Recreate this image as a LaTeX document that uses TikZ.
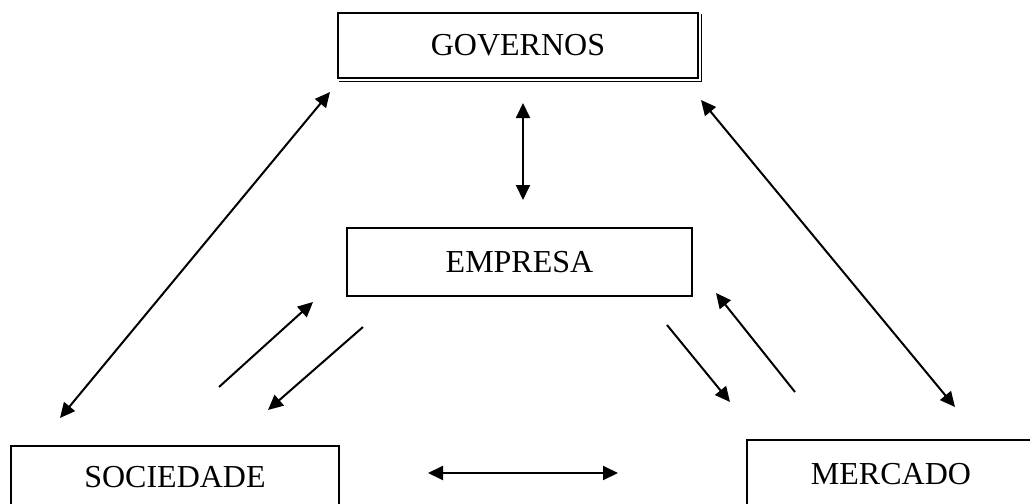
\documentclass[tikz,border=0pt]{standalone}
\usepackage{fontspec}
\setmainfont{Liberation Serif}
\usetikzlibrary{arrows.meta}
\begin{document}
\begin{tikzpicture}[x=0.5pt,y=-0.5pt,
  box/.style={draw, line width=1pt, rectangle, inner sep=0pt, font=\fontsize{16}{19}\selectfont},
  link/.style={line width=1pt, -{Triangle[length=7.5pt,width=7pt]}},
  dlink/.style={line width=1pt, {Triangle[length=7.5pt,width=7pt]}-{Triangle[length=7.5pt,width=7pt]}}]
\path[use as bounding box, clip] (0,0) rectangle (1030,504);
\fill[white] (0,0) rectangle (1030,504);
% boxes
\node[box, minimum width=180pt, minimum height=32.5pt] (gov) at (518,45.5) {GOVERNOS};
\draw[line width=0.7pt] ([shift={(1pt,-1.3pt)}]gov.south west) -| ([shift={(1.3pt,-1pt)}]gov.north east);
\node[box, minimum width=172.5pt, minimum height=34pt] (emp) at (519.5,262) {EMPRESA};
\node[box, minimum width=164pt, minimum height=31pt] (soc) at (175,477) {SOCIEDADE};
\node[box, minimum width=144pt, minimum height=34pt] (mer) at (891,474) {MERCADO};
% arrow end points
\coordinate (a1) at (330,92);   \coordinate (a2) at (60,418);
\coordinate (b1) at (523,103);  \coordinate (b2) at (523,200);
\coordinate (c1) at (219,387);  \coordinate (c2) at (313,302);
\coordinate (d1) at (363,327);  \coordinate (d2) at (268,410);
\coordinate (e1) at (701,100);  \coordinate (e2) at (955,407);
\coordinate (f1) at (667,325);  \coordinate (f2) at (730,402);
\coordinate (g1) at (795,392);  \coordinate (g2) at (716,293);
\coordinate (h1) at (428,473);  \coordinate (h2) at (618,473);
% arrows
\draw[dlink] (a1) -- (a2);
\draw[dlink] (b1) -- (b2);
\draw[link] (c1) -- (c2);
\draw[link] (d1) -- (d2);
\draw[dlink] (e1) -- (e2);
\draw[link] (f1) -- (f2);
\draw[link] (g1) -- (g2);
\draw[dlink] (h1) -- (h2);
\end{tikzpicture}
\end{document}
